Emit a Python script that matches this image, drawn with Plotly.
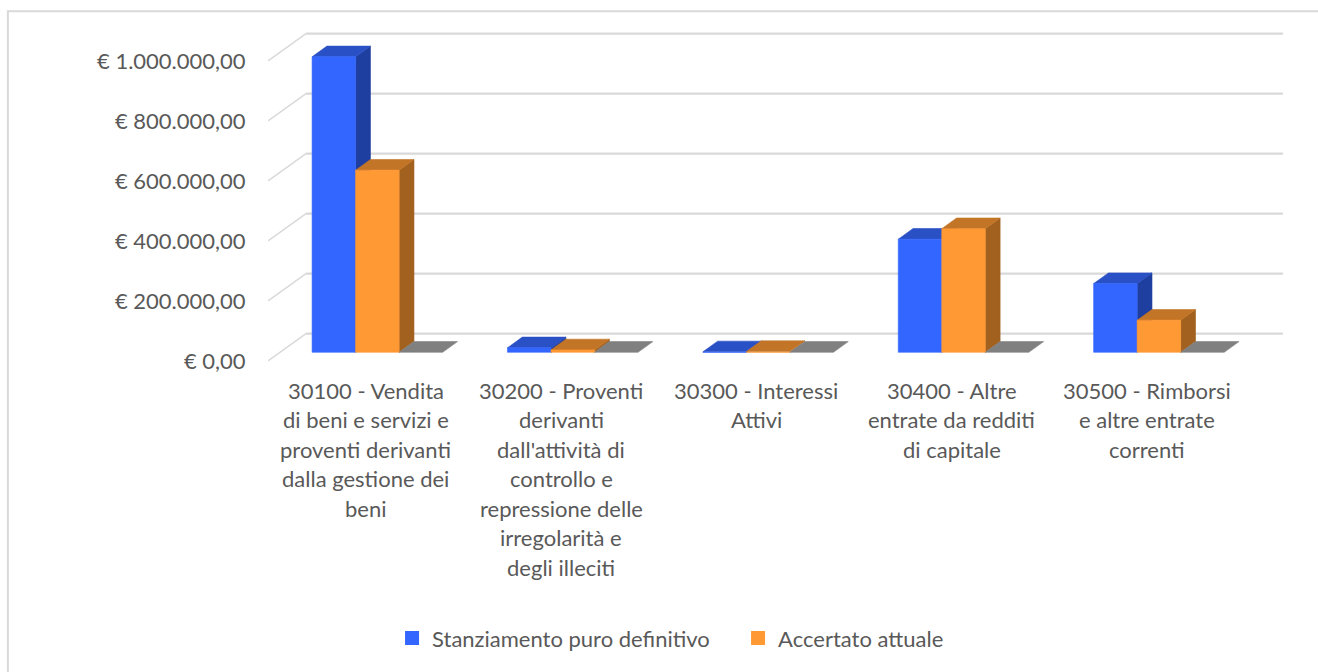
import plotly.graph_objects as go

# ---------------- data ----------------
category_lines = [
    ["30100 - Vendita", "di beni e servizi e", "proventi derivanti", "dalla gestione dei", "beni"],
    ["30200 - Proventi", "derivanti", "dall'attività di", "controllo e", "repressione delle", "irregolarità e", "degli illeciti"],
    ["30300 - Interessi", "Attivi"],
    ["30400 - Altre", "entrate da redditi", "di capitale"],
    ["30500 - Rimborsi", "e altre entrate", "correnti"],
]
series_names = ["Stanziamento puro definitivo", "Accertato attuale"]
stanziamento = [985000, 15000, 1500, 377000, 229000]
accertato = [607000, 8000, 2500, 412000, 107000]
terza_serie = [0, 0, 0, 0, 0]
tick_values = [0, 200000, 400000, 600000, 800000, 1000000]

# ---------------- styling / geometry ----------------
W, H = 1318, 672
FONT = "Lato, 'Open Sans', sans-serif"
TXT = "#595959"
GRID = "#d9d9d9"

X0_PX, CAT_PX = 268.0, 195.3          # front plane: left edge, category width
Y0_PX, PX_PER_UNIT = 360.7, 300.0 / 1e6
X_RANGE = [-0.5, 4.7]
Y_RANGE = [-30000, 1100000]
plot_left = X0_PX
plot_right = X0_PX + (X_RANGE[1] - X_RANGE[0]) * CAT_PX
plot_top = Y0_PX - Y_RANGE[1] * PX_PER_UNIT
plot_bottom = Y0_PX - Y_RANGE[0] * PX_PER_UNIT
plot_h = plot_bottom - plot_top
plot_w = plot_right - plot_left

# depth vector (front plane -> back wall) in data units
DEPTH_X = 38.0 / CAT_PX
DEPTH_Y = 27.4 / 300.0 * 1e6
D_FRONT, D_BAR = 0.318, 0.39           # bar front depth, bar thickness (fractions)
GAP = 32.0 / CAT_PX
BW = 43.5 / CAT_PX

colors = [
    {"front": "#3366FF", "top": "#2A50C6", "side": "#1F3FA0"},
    {"front": "#FF9933", "top": "#C37527", "side": "#A2611F"},
    {"front": "#808080", "top": "#808080", "side": "#6E6E6E"},
]

fig = go.Figure()

# back wall gridlines and left wall diagonals
gx, gy, dx_, dy_ = [], [], [], []
for v in tick_values:
    gx += [-0.5 + DEPTH_X, 4.5 + DEPTH_X, None]
    gy += [v + DEPTH_Y, v + DEPTH_Y, None]
    dx_ += [-0.5, -0.5 + DEPTH_X, None]
    dy_ += [v, v + DEPTH_Y, None]
fig.add_trace(go.Scatter(x=gx, y=gy, mode="lines", line=dict(color=GRID, width=2.2),
                         hoverinfo="skip", showlegend=False))
fig.add_trace(go.Scatter(x=dx_, y=dy_, mode="lines", line=dict(color=GRID, width=1.5),
                         hoverinfo="skip", showlegend=False))


def poly(xs, ys, c):
    fig.add_trace(go.Scatter(x=xs + [xs[0]], y=ys + [ys[0]], mode="lines", fill="toself",
                             fillcolor=c, line=dict(color=c, width=0.6),
                             hoverinfo="skip", showlegend=False))


all_series = [stanziamento, accertato, terza_serie]
base = D_FRONT * DEPTH_Y
ox = D_BAR * DEPTH_X
oy = D_BAR * DEPTH_Y
for i in range(len(category_lines)):
    for s, vals in enumerate(all_series):
        v = vals[i]
        xl = i - 0.5 + D_FRONT * DEPTH_X + GAP + s * BW
        xr = xl + BW
        col = colors[s]
        if v > 0:
            poly([xr, xr + ox, xr + ox, xr], [base, base + oy, base + v + oy, base + v], col["side"])
        poly([xl, xr, xr + ox, xl + ox], [base + v, base + v, base + v + oy, base + v + oy], col["top"])
        if v > 0:
            poly([xl, xr, xr, xl], [base, base, base + v, base + v], col["front"])

# legend entries
for name, col in zip(series_names, colors[:2]):
    fig.add_trace(go.Scatter(x=[None], y=[None], mode="markers", name=name,
                             marker=dict(symbol="square", size=14, color=col["front"])))


def euro(v):
    s = f"{v:,.2f}".replace(",", "X").replace(".", ",").replace("X", ".")
    return "€ " + s


# category labels (one annotation per line)
annotations = []
LINE_H = 29.5
FIRST_Y = 390.0
for i, lines in enumerate(category_lines):
    for k, line in enumerate(lines):
        annotations.append(dict(
            x=i, xref="x", y=0, yref="paper", yanchor="middle", xanchor="center",
            yshift=-(FIRST_Y - plot_bottom) - k * LINE_H, text=line, showarrow=False,
            font=dict(family=FONT, size=22, color=TXT)))


def px_x(p):
    return (p - plot_left) / plot_w


def px_y(p):
    return (plot_bottom - p) / plot_h


shapes = [
    dict(type="line", xref="paper", yref="paper", x0=px_x(8), x1=px_x(8), y0=px_y(11), y1=px_y(H + 2),
         line=dict(color=GRID, width=2)),
    dict(type="line", xref="paper", yref="paper", x0=px_x(7), x1=px_x(W + 2), y0=px_y(11), y1=px_y(11),
         line=dict(color=GRID, width=2)),
]

fig.update_layout(
    width=W, height=H,
    margin=dict(l=plot_left, r=W - plot_right, t=plot_top, b=H - plot_bottom, pad=0),
    paper_bgcolor="white", plot_bgcolor="white",
    hovermode=False,
    font=dict(family=FONT, size=22, color=TXT),
    xaxis=dict(range=X_RANGE, showgrid=False, zeroline=False, showline=False,
               showticklabels=False, fixedrange=True),
    yaxis=dict(range=Y_RANGE, showgrid=False, zeroline=False, showline=False,
               tickvals=tick_values, ticktext=[euro(v) for v in tick_values],
               ticks="outside", ticklen=17, tickcolor="rgba(0,0,0,0)",
               tickfont=dict(family=FONT, size=22, color=TXT), fixedrange=True),
    showlegend=True,
    legend=dict(orientation="h", x=px_x(392), xanchor="left", y=px_y(638), yanchor="middle",
                font=dict(family=FONT, size=22, color=TXT), bgcolor="rgba(0,0,0,0)",
                itemwidth=30, entrywidth=301, entrywidthmode="pixels"),
    annotations=annotations,
    shapes=shapes,
)

fig.write_html("out.html", config={"displayModeBar": False},
               post_script="document.body.style.margin='0';document.body.style.overflow='hidden';")
